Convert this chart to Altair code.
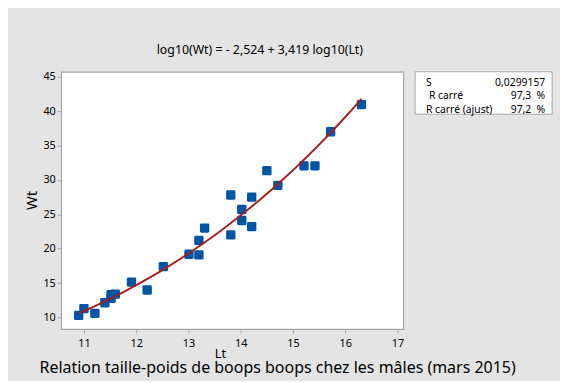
import altair as alt
import pandas as pd

# ---- data ----
lt = [10.9, 11.0, 11.21, 11.4, 11.52, 11.52, 11.6, 11.91, 12.21, 12.52,
      13.01, 13.2, 13.2, 13.31, 13.81, 13.81, 14.02, 14.02, 14.21, 14.21,
      14.5, 14.71, 15.21, 15.42, 15.72, 16.31]
wt = [10.3, 11.3, 10.6, 12.15, 12.8, 13.3, 13.4, 15.15, 14.0, 17.4,
      19.2, 19.1, 21.2, 23.0, 22.0, 27.8, 24.1, 25.7, 27.5, 23.2,
      31.35, 29.2, 32.05, 32.05, 37.0, 40.95]
x_ticks = [11, 12, 13, 14, 15, 16, 17]
y_ticks = [10, 15, 20, 25, 30, 35, 40, 45]
stat_labels = ["S", "R carré", "R carré (ajust)"]
stat_values = ["0,0299157", "97,3\u00a0\u00a0%", "97,2\u00a0\u00a0%"]
equation = "log10(Wt) = - 2,524 + 3,419 log10(Lt)"
caption = "Relation taille-poids de boops boops chez les mâles (mars 2015)"

FONT = "Noto Sans"
W, H = 347, 261
BG = "#e4e4e4"
FRAME = "#a6a6a6"
BLUE = "#0054a6"
RED = "#a3201e"

df = pd.DataFrame({"Lt": lt, "Wt": wt})

xs = alt.Scale(domain=[10.566, 17.11], nice=False, zero=False)
ys = alt.Scale(domain=[8.32, 45.72], nice=False, zero=False)

x_axis = alt.Axis(values=x_ticks, title="Lt", grid=False, domain=False,
                  tickSize=4, tickColor=FRAME, labelPadding=5,
                  labelOverlap=False,
                  labelFont=FONT, labelFontSize=11, labelColor="#000",
                  titleFont=FONT, titleFontSize=13, titleFontWeight="normal",
                  titleColor="#000", titleBaseline="alphabetic",
                  titleAlign="center", titleX=161, titleY=29)
y_axis = alt.Axis(values=y_ticks, title="Wt", grid=False, domain=False,
                  tickSize=4, tickColor=FRAME, labelPadding=2,
                  labelOverlap=False,
                  labelFont=FONT, labelFontSize=11, labelColor="#000",
                  titleFont=FONT, titleFontSize=15, titleFontWeight="normal",
                  titleColor="#000", titleAngle=-90, titleBaseline="middle",
                  titleAlign="center", titleX=-30, titleY=130)

rounded_square = ("M-0.7,-1 L0.7,-1 Q1,-1 1,-0.7 L1,0.7 Q1,1 0.7,1 "
                  "L-0.7,1 Q-1,1 -1,0.7 L-1,-0.7 Q-1,-1 -0.7,-1 Z")

base = alt.Chart(df)

points = base.mark_point(shape=rounded_square, filled=True, opacity=1,
                         size=90, color=BLUE).encode(
    x=alt.X("Lt:Q", scale=xs, axis=x_axis),
    y=alt.Y("Wt:Q", scale=ys, axis=y_axis),
)

fit = base.transform_regression("Lt", "Wt", method="pow").mark_line(
    color=RED, strokeWidth=2).encode(
    x=alt.X("Lt:Q", scale=xs, axis=x_axis),
    y=alt.Y("Wt:Q", scale=ys, axis=y_axis))

eq_text = alt.Chart(pd.DataFrame({"t": [equation]})).mark_text(
    font=FONT, fontSize=12.5, color="#000", align="center", baseline="alphabetic").encode(
    text="t:N", x=alt.value(201.5), y=alt.value(-18))

cap_text = alt.Chart(pd.DataFrame({"t": [caption]})).mark_text(
    font=FONT, fontSize=16.2, color="#000", align="center", baseline="alphabetic").encode(
    text="t:N", x=alt.value(219.5), y=alt.value(306))

box = alt.Chart(pd.DataFrame({"a": [0]})).mark_rect(
    fill="white", stroke=FRAME, strokeWidth=1).encode(
    x=alt.value(359), x2=alt.value(498), y=alt.value(0), y2=alt.value(43))

layers = [points, fit, eq_text, cap_text, box]
row_y = [11, 25, 39]
row_x = [370, 373, 370]
for lab, val, yy, xx in zip(stat_labels, stat_values, row_y, row_x):
    d = pd.DataFrame({"lab": [lab], "val": [val]})
    layers.append(alt.Chart(d).mark_text(font=FONT, fontSize=10.5, color="#000",
                                         align="left", baseline="middle").encode(
        text="lab:N", x=alt.value(xx), y=alt.value(yy)))
    layers.append(alt.Chart(d).mark_text(font=FONT, fontSize=10.5, color="#000",
                                         align="right", baseline="middle").encode(
        text="val:N", x=alt.value(491), y=alt.value(yy)))

chart = alt.layer(*layers).properties(
    width=W, height=H,
    autosize=alt.AutoSizeParams(type="none"),
    padding={"left": 54, "top": 62, "right": 159, "bottom": 50},
    background=BG,
).configure_view(stroke=FRAME, strokeWidth=1.2, fill="white")

chart.save("out.html", embed_options={"renderer": "svg", "actions": False})
